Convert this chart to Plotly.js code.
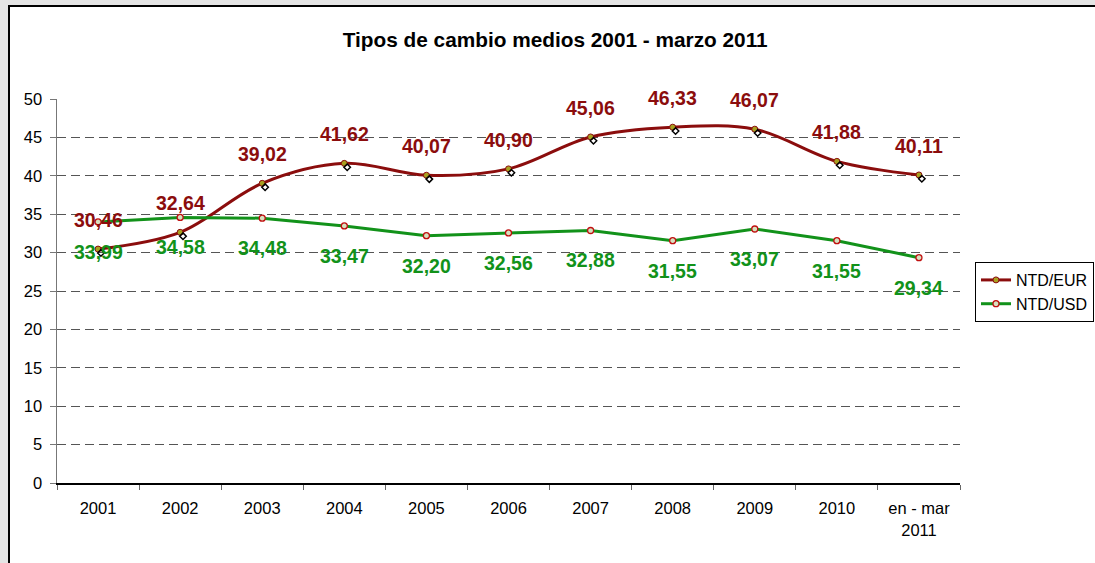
<!DOCTYPE html>
<html>
<head>
<meta charset="utf-8">
<script src="https://cdn.plot.ly/plotly-3.0.1.min.js"></script>
<style>
  html, body { margin: 0; padding: 0; width: 1095px; height: 563px; overflow: hidden; background: #e4e4e4; }
  #frame { position: absolute; left: 8px; top: 5px; width: 1100px; height: 570px; background: #ffffff; border-left: 2px solid #000; border-top: 2px solid #000; }
  #chart { position: absolute; left: 0; top: 0; width: 1095px; height: 563px; }
</style>
</head>
<body>
<div id="frame"></div>
<div id="chart"></div>
<script>
// Data
const categories = ['2001', '2002', '2003', '2004', '2005', '2006', '2007', '2008', '2009', '2010', 'en - mar<br>2011'];
const ntdEur = [30.46, 32.64, 39.02, 41.62, 40.07, 40.90, 45.06, 46.33, 46.07, 41.88, 40.11];
const ntdUsd = [33.99, 34.58, 34.48, 33.47, 32.20, 32.56, 32.88, 31.55, 33.07, 31.55, 29.34];
const seriesNames = ['NTD/EUR', 'NTD/USD'];
const chartTitle = 'Tipos de cambio medios 2001 - marzo 2011';

const RED = '#8b0d0d';
const GREEN = '#12921a';
const FONT = 'Liberation Sans, Arial, sans-serif';
const fmt = v => v.toFixed(2).replace('.', ',');

const traces = [
  {
    x: categories, y: ntdEur, name: seriesNames[0], type: 'scatter', mode: 'lines+markers',
    line: { color: RED, width: 3, shape: 'spline', smoothing: 1 },
    marker: { symbol: 'circle', size: 6, color: '#a8a020', line: { color: RED, width: 1 } },
    hoverinfo: 'x+y'
  },
  {
    x: categories, y: ntdUsd, name: seriesNames[1], type: 'scatter', mode: 'lines+markers',
    line: { color: GREEN, width: 3 },
    marker: { symbol: 'circle', size: 6, color: '#d8e0c0', line: { color: '#c01010', width: 1.3 } },
    hoverinfo: 'x+y'
  },
  {
    x: categories, y: ntdEur, xaxis: 'x2', yaxis: 'y2', type: 'scatter', mode: 'markers',
    showlegend: false, hoverinfo: 'skip',
    marker: { symbol: 'diamond-open', size: 5, color: '#000', line: { color: '#000', width: 1.5 } }
  }
];

const annotations = [];
categories.forEach((c, i) => {
  annotations.push({
    x: i, y: ntdEur[i], xref: 'x', yref: 'y', text: '<b>' + fmt(ntdEur[i]) + '</b>',
    showarrow: false, yshift: 29, yanchor: 'middle', xanchor: 'center',
    font: { family: FONT, size: 19.5, color: RED }
  });
  annotations.push({
    x: i, y: ntdUsd[i], xref: 'x', yref: 'y', text: '<b>' + fmt(ntdUsd[i]) + '</b>',
    showarrow: false, yshift: -30, yanchor: 'middle', xanchor: 'center',
    font: { family: FONT, size: 19.5, color: GREEN }
  });
});

const layout = {
  width: 1095, height: 563,
  paper_bgcolor: 'rgba(0,0,0,0)', plot_bgcolor: 'rgba(0,0,0,0)',
  margin: { l: 57, r: 135, t: 99, b: 80 },
  font: { family: FONT, color: '#000' },
  title: {
    text: '<b>' + chartTitle + '</b>',
    font: { family: FONT, size: 20.8, color: '#000' },
    x: 0.507, xanchor: 'center', xref: 'container', y: 0.929, yanchor: 'middle', yref: 'container'
  },
  xaxis: {
    type: 'category', range: [-0.5, 10.5], tickson: 'boundaries', ticks: 'outside', ticklen: 5,
    tickcolor: '#666', showline: true, linecolor: '#000', linewidth: 1.5, showgrid: false,
    tickfont: { size: 16.5, color: '#000' }, ticklabelstandoff: 10, fixedrange: true,
    automargin: false
  },
  yaxis: {
    range: [0, 50], dtick: 5, tick0: 0, ticks: 'outside', ticklen: 6, tickcolor: '#777',
    showline: true, linecolor: '#777', linewidth: 1.5, showgrid: true, gridcolor: '#555',
    gridwidth: 1, griddash: '9px,5px', zeroline: false, tickfont: { size: 16.5, color: '#000' },
    ticklabelstandoff: 4, fixedrange: true, automargin: false
  },
  xaxis2: {
    type: 'category', overlaying: 'x', range: [-0.5 - 0.035, 10.5 - 0.035], visible: false,
    fixedrange: true
  },
  yaxis2: {
    overlaying: 'y', range: [0.5, 50.5], visible: false, fixedrange: true
  },
  showlegend: true,
  legend: {
    xref: 'container', yref: 'container',
    x: 0.8904, xanchor: 'left', y: 0.5346, yanchor: 'top',
    bordercolor: '#000', borderwidth: 1, bgcolor: '#fff',
    font: { size: 16, color: '#000' }, itemwidth: 30, tracegroupgap: 0
  },
  annotations: annotations
};

Plotly.newPlot('chart', traces, layout, { displayModeBar: false, staticPlot: true });
</script>
</body>
</html>
